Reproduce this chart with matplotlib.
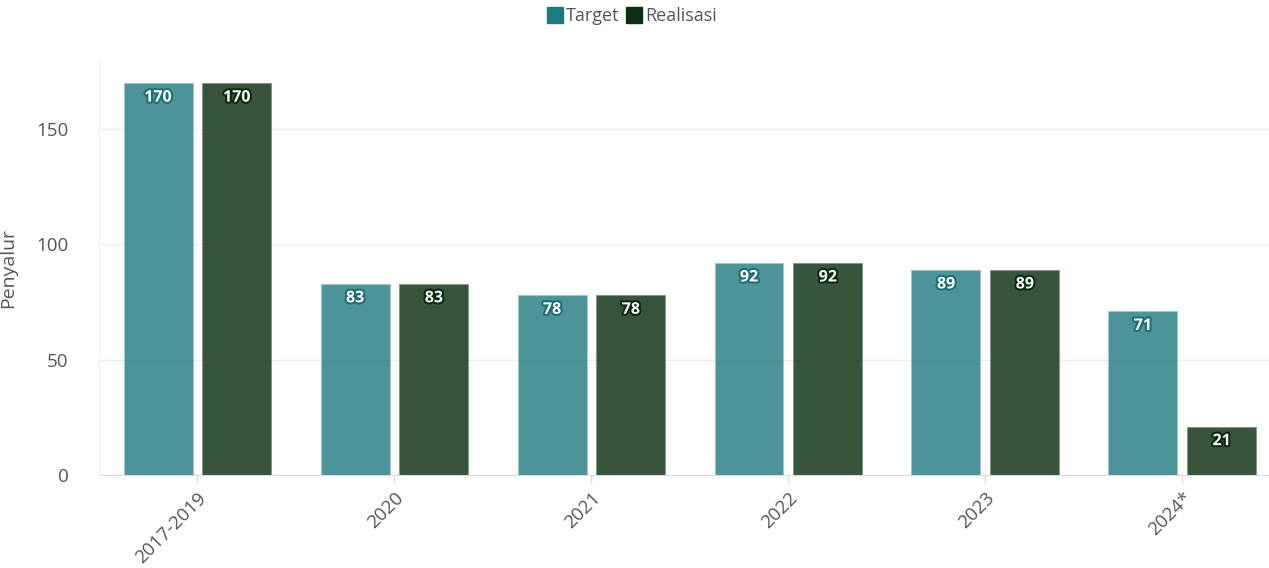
import matplotlib.pyplot as plt
import matplotlib.patheffects as pe
from matplotlib.lines import Line2D
import numpy as np

plt.rcParams['font.family'] = ['Open Sans', 'DejaVu Sans']

categories = ["2017-2019", "2020", "2021", "2022", "2023", "2024*"]
target = [170, 83, 78, 92, 89, 71]
realisasi = [170, 83, 78, 92, 89, 21]

c_target = "#1f7a80"
c_real = "#0b3010"

fig = plt.figure(figsize=(12.69, 5.68), dpi=100)
ax = fig.add_axes([99 / 1269, 1 - 475 / 568, 1170 / 1269, 415 / 568])

x = np.arange(len(categories))
w = 0.35
b1 = ax.bar(x - 0.2, target, w, color=c_target, alpha=0.8,
            edgecolor="#9fc5c7", linewidth=0.8, zorder=3)
b2 = ax.bar(x + 0.2, realisasi, w, color=c_real, alpha=0.82,
            edgecolor="#7f9584", linewidth=0.8, zorder=3)

# value labels inside the top of each bar
for bars, vals, dark in [(b1, target, "#1f6f74"), (b2, realisasi, "#0b2a10")]:
    for rect, v in zip(bars, vals):
        ax.annotate(str(v), (rect.get_x() + rect.get_width() / 2, v),
                    xytext=(0, -10.5), textcoords="offset points",
                    ha="center", va="center", fontsize=11.5, fontweight="bold",
                    color="white", zorder=5,
                    path_effects=[pe.withStroke(linewidth=3, foreground=dark)])

ax.set_xlim(-0.5, 5.44)
ax.set_ylim(0, 180)
ax.set_yticks([0, 50, 100, 150])
ax.set_xticks(x)
ax.set_xticklabels(categories, rotation=45, ha="right", rotation_mode="anchor")
ax.tick_params(axis="x", colors="#dddddd", length=6, width=1, labelcolor="#555555",
               labelsize=13.5, pad=4)
ax.tick_params(axis="y", length=0, labelcolor="#555555", labelsize=13.5, pad=22)
ax.grid(axis="y", color="#eeeeee", linewidth=1, zorder=0)
for s in ["top", "right"]:
    ax.spines[s].set_visible(False)
ax.spines["left"].set_color("#eeeeee")
ax.spines["bottom"].set_color("#dddddd")
ax.set_ylabel("Penyalur", fontsize=14, color="#555555", labelpad=14)

handles = [Line2D([], [], marker="s", linestyle="", markersize=12, color=c_target),
           Line2D([], [], marker="s", linestyle="", markersize=12, color=c_real)]
fig.legend(handles, ["Target", "Realisasi"], loc="center", bbox_to_anchor=(0.497, 1 - 16 / 568),
           ncol=2, frameon=False, fontsize=13, handletextpad=0.0, columnspacing=0.2,
           handlelength=1.2, labelcolor="#555555")

fig.savefig("out.png", dpi=100)
